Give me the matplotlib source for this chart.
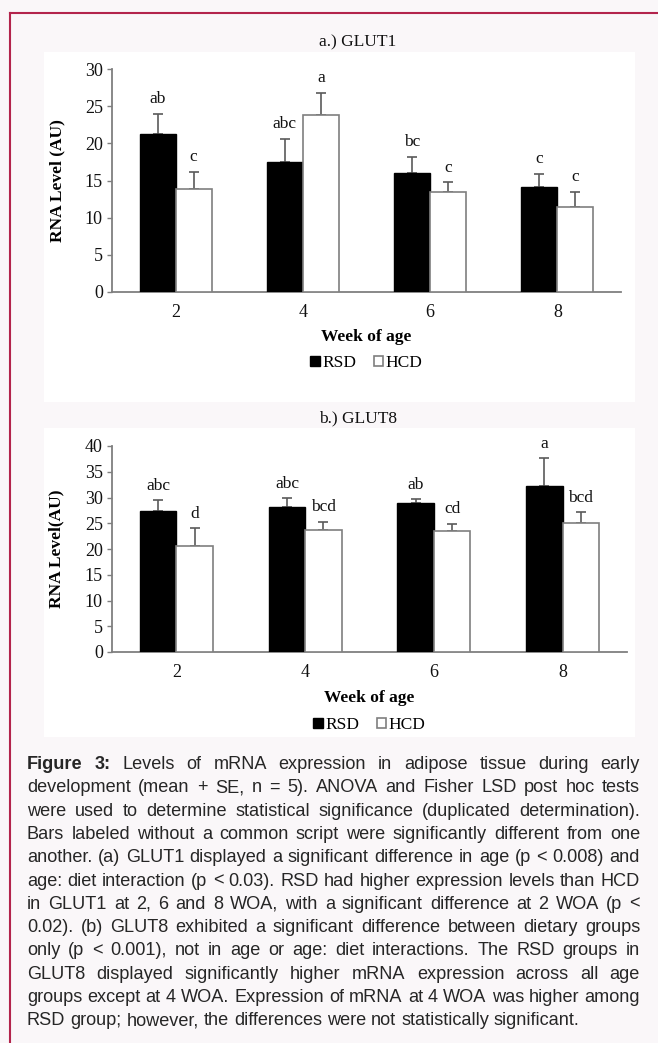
import numpy as np
import matplotlib
matplotlib.use("Agg")
import matplotlib.pyplot as plt
from matplotlib.patches import Rectangle
from matplotlib.lines import Line2D

# -----------------------------
# data
# -----------------------------
weeks = ["2", "4", "6", "8"]

glut1_rsd = [21.3, 17.5, 16.0, 14.1]
glut1_rsd_se = [2.7, 3.1, 2.2, 1.8]
glut1_hcd = [13.8, 23.8, 13.4, 11.4]
glut1_hcd_se = [2.4, 3.0, 1.4, 2.1]
glut1_rsd_letters = ["ab", "abc", "bc", "c"]
glut1_hcd_letters = ["c", "a", "c", "c"]

glut8_rsd = [27.4, 28.2, 28.9, 32.2]
glut8_rsd_se = [2.1, 1.7, 0.8, 5.4]
glut8_hcd = [20.6, 23.7, 23.5, 25.0]
glut8_hcd_se = [3.4, 1.6, 1.4, 2.2]
glut8_rsd_letters = ["abc", "abc", "ab", "a"]
glut8_hcd_letters = ["d", "bcd", "cd", "bcd"]

caption_lines = [
    "Figure 3: Levels of mRNA expression in adipose tissue during early",
    "development (mean + SE, n = 5). ANOVA and Fisher LSD post hoc tests",
    "were used to determine statistical significance (duplicated determination).",
    "Bars labeled without a common script were significantly different from one",
    "another. (a) GLUT1 displayed a significant difference in age (p < 0.008) and",
    "age: diet interaction (p < 0.03). RSD had higher expression levels than HCD",
    "in GLUT1 at 2, 6 and 8 WOA, with a significant difference at 2 WOA (p <",
    "0.02). (b) GLUT8 exhibited a significant difference between dietary groups",
    "only (p < 0.001), not in age or age: diet interactions. The RSD groups in",
    "GLUT8 displayed significantly higher mRNA expression across all age",
    "groups except at 4 WOA. Expression of mRNA at 4 WOA was higher among",
    "RSD group; however, the differences were not statistically significant.",
]

# -----------------------------
# figure (pixel layout helpers)
# -----------------------------
W, H = 658, 1043
BG = "#faf7f9"
FRAME = "#b3244c"
SERIF = "Liberation Serif"
SANS = "Liberation Sans"

fig = plt.figure(figsize=(W / 100, H / 100), dpi=100)
fig.patch.set_facecolor(BG)


def px(x0, y0, x1, y1):
    # pixel box (top-left origin) -> figure fraction rect
    return [x0 / W, 1 - y1 / H, (x1 - x0) / W, (y1 - y0) / H]


# outer frame: top and left rules
fig.add_artist(Line2D([10 / W, 1], [1 - 13 / H] * 2, color=FRAME, lw=1.5))
fig.add_artist(Line2D([10 / W] * 2, [0, 1 - 13 / H], color=FRAME, lw=1.5))

# white panels behind the charts
for (x0, y0, x1, y1) in [(44, 52, 635, 402), (44, 428, 635, 737)]:
    r = px(x0, y0, x1, y1)
    fig.add_artist(Rectangle((r[0], r[1]), r[2], r[3], transform=fig.transFigure,
                             facecolor="white", edgecolor="none", zorder=0))


def bar_panel(rect, rsd, rsd_se, hcd, hcd_se, rsd_lab, hcd_lab, ymax, ylabel,
              xlabel_y, legend_y):
    ax = fig.add_axes(rect)
    ax.set_facecolor("none")
    x = np.arange(len(weeks))
    w = 0.283

    ax.bar(x - w / 2, rsd, w, color="black", edgecolor="black", lw=1.0,
           label="RSD", zorder=3)
    ax.bar(x + w / 2, hcd, w, color="white", edgecolor="#7f7f7f", lw=1.2,
           label="HCD", zorder=3)

    # upper error bars only
    for xs, vals, se in [(x - w / 2, rsd, rsd_se), (x + w / 2, hcd, hcd_se)]:
        ax.errorbar(xs, vals, yerr=[np.zeros(len(se)), se], fmt="none",
                    ecolor="#5a5a5a", elinewidth=1.2, capsize=3.5,
                    capthick=1.2, zorder=2)

    # significance letters above the error bars
    for xs, vals, se, labs in [(x - w / 2, rsd, rsd_se, rsd_lab),
                               (x + w / 2, hcd, hcd_se, hcd_lab)]:
        for xi, v, s, lab in zip(xs, vals, se, labs):
            ax.annotate(lab, (xi, v + s), xytext=(0, 7.5),
                        textcoords="offset points", ha="center",
                        va="baseline", fontsize=12.5, family=SERIF,
                        color="#111111")

    ax.set_xlim(-0.5, len(weeks) - 0.5)
    ax.set_ylim(0, ymax)
    ax.set_yticks(np.arange(0, ymax + 1, 5))
    ax.set_xticks(x)
    ax.set_xticklabels(weeks)

    for s in ["top", "right"]:
        ax.spines[s].set_visible(False)
    for s in ["left", "bottom"]:
        ax.spines[s].set_color("#7f7f7f")
        ax.spines[s].set_linewidth(1.3)

    ax.tick_params(axis="y", direction="out", length=3.6, width=1.0,
                   color="#7f7f7f", pad=3, labelsize=13)
    ax.tick_params(axis="x", length=0, pad=8.5, labelsize=13)
    for t in ax.get_xticklabels() + ax.get_yticklabels():
        t.set_family(SERIF)
        t.set_color("#111111")

    ax.set_ylabel(ylabel, family=SERIF, fontsize=12.5, fontweight="bold")
    ax.yaxis.set_label_coords(-0.092, 0.5)
    ax.set_xlabel("Week of age", family=SERIF, fontsize=12.5,
                  fontweight="bold")
    ax.xaxis.set_label_coords(0.5, xlabel_y)

    ax.legend(loc="center", bbox_to_anchor=(0.5, legend_y), ncol=2,
              frameon=False, handlelength=0.55, handleheight=0.55,
              handletextpad=0.15, columnspacing=1.0,
              prop={"family": SERIF, "size": 12.5})
    return ax


bar_panel(px(112, 69, 621, 292), glut1_rsd, glut1_rsd_se, glut1_hcd,
          glut1_hcd_se, glut1_rsd_letters, glut1_hcd_letters, 30,
          "RNA Level (AU)", -0.166, -0.318)
bar_panel(px(112, 446, 627, 652), glut8_rsd, glut8_rsd_se, glut8_hcd,
          glut8_hcd_se, glut8_rsd_letters, glut8_hcd_letters, 40,
          "RNA Level(AU)", -0.184, -0.354)

fig.text(358 / W, 1 - 42 / H, "a.) GLUT1", ha="center", va="center",
         family=SERIF, fontsize=12.5, color="#111111")
fig.text(358 / W, 1 - 418 / H, "b.) GLUT8", ha="center", va="center",
         family=SERIF, fontsize=12.5, color="#111111")

# -----------------------------
# caption, justified
# -----------------------------
renderer = fig.canvas.get_renderer()
left, right = 27, 640
first_base, line_h = 769, 23.3
cap_color = "#262626"


def text_width(s, size, weight="normal"):
    t = fig.text(0, 0, s, family=SANS, fontsize=size, fontweight=weight)
    wdt = t.get_window_extent(renderer).width
    t.remove()
    return wdt


# size the caption so the widest justified line still keeps normal spaces
cap_size = 12.0
natural = max(text_width(s, cap_size) for s in caption_lines[:-1])
cap_size = cap_size * (right - left - 3) / natural
space_w = text_width("a a", cap_size) - 2 * text_width("a", cap_size)

for i, line in enumerate(caption_lines):
    words = line.split(" ")
    y = 1 - (first_base + i * line_h) / H
    items = []
    for j, wd in enumerate(words):
        bold = (i == 0 and j < 2)
        t = fig.text(0, y, wd, ha="left", va="baseline", family=SANS,
                     fontsize=cap_size, color=cap_color,
                     fontweight="bold" if bold else "normal")
        items.append(t)
    widths = [t.get_window_extent(renderer).width for t in items]
    if i == len(caption_lines) - 1:
        gap = space_w
    else:
        gap = (right - left - sum(widths)) / (len(words) - 1)
    xpos = left
    for t, wdt in zip(items, widths):
        t.set_x(xpos / W)
        xpos += wdt + gap

fig.savefig("out.png", dpi=100, facecolor=BG)
